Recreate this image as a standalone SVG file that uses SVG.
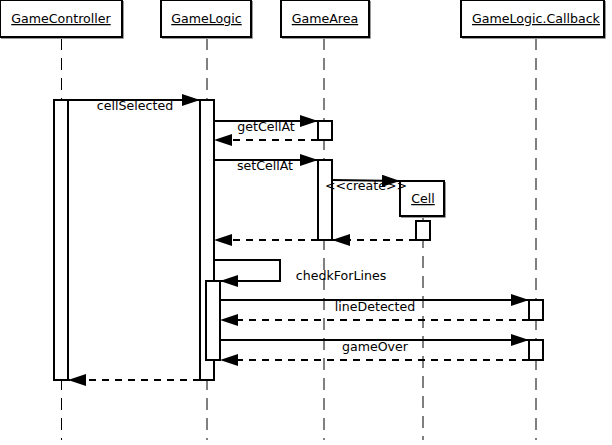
<svg xmlns="http://www.w3.org/2000/svg" width="612" height="445" viewBox="0 0 612 445">
<style>
  text { font-family: "DejaVu Sans", "Liberation Sans", sans-serif; font-size: 12.6px; fill: #000; }
  .hdr { fill: #fff; stroke: #000; stroke-width: 2; }
  .shadow { fill: none; stroke: #999; stroke-width: 1; }
  .life { stroke: #000; stroke-width: 1; stroke-dasharray: 12 8; fill: none; }
  .act { fill: #fff; stroke: #000; stroke-width: 2; }
  .msg { stroke: #000; stroke-width: 2; fill: none; marker-end: url(#arr); }
  .ret { stroke: #000; stroke-width: 2; fill: none; stroke-dasharray: 7 6; marker-end: url(#arr); }
  .u { text-decoration: underline; }
</style>
<defs>
  <marker id="arr" viewBox="0 0 18 12" refX="18" refY="6" markerWidth="18" markerHeight="12" markerUnits="userSpaceOnUse" orient="auto">
    <path d="M0,0 L18,6 L0,12 Z" fill="#000"/>
  </marker>
</defs>
<rect width="612" height="445" fill="#fff"/>

<g id="lifelines">
  <line class="life" x1="61.5" y1="38" x2="61.5" y2="440"/>
  <line class="life" x1="207" y1="38" x2="207" y2="440"/>
  <line class="life" x1="324" y1="38" x2="324" y2="440"/>
  <line class="life" x1="423" y1="216" x2="423" y2="440"/>
  <line class="life" x1="536" y1="38" x2="536" y2="440"/>
</g>

<g id="GameController">
  <path class="shadow" d="M123.5,1 V38.5 H1"/>
  <rect class="hdr" x="0" y="0" width="122" height="37"/>
  <text class="u" x="61" y="23" text-anchor="middle">GameController</text>
  <rect class="act" x="54" y="100" width="14" height="280"/>
</g>
<g id="GameLogic">
  <path class="shadow" d="M252.5,1 V38.5 H162"/>
  <rect class="hdr" x="161" y="0" width="90" height="37"/>
  <text class="u" x="206.5" y="23" text-anchor="middle">GameLogic</text>
  <rect class="act" x="200" y="100" width="14" height="280"/>
  <rect class="act" x="206" y="281" width="14" height="79"/>
</g>
<g id="GameArea">
  <path class="shadow" d="M370.5,1 V38.5 H282"/>
  <rect class="hdr" x="281" y="0" width="88" height="37"/>
  <text class="u" x="325" y="23" text-anchor="middle">GameArea</text>
  <rect class="act" x="318" y="121" width="14" height="19"/>
  <rect class="act" x="318" y="160" width="14" height="80"/>
</g>
<g id="GameLogicCallback">
  <path class="shadow" d="M605.5,1 V38.5 H462"/>
  <rect class="hdr" x="461" y="0" width="143" height="37"/>
  <text class="u" x="536" y="23" text-anchor="middle">GameLogic.Callback</text>
  <rect class="act" x="529" y="300" width="14" height="20"/>
  <rect class="act" x="529" y="340" width="14" height="20"/>
</g>
<g id="Cell">
  <path class="shadow" d="M445.5,182 V217.5 H401"/>
  <rect class="hdr" x="400" y="181" width="44" height="35"/>
  <text class="u" x="423" y="203" text-anchor="middle">Cell</text>
  <rect class="act" x="416" y="221" width="14" height="19"/>
</g>

<g id="connectors">
  <line class="msg" x1="68" y1="100" x2="200" y2="100"/>
  <text x="135" y="110" text-anchor="middle">cellSelected</text>
  <line class="msg" x1="214" y1="121" x2="318" y2="121"/>
  <text x="266" y="131" text-anchor="middle">getCellAt</text>
  <line class="ret" x1="318" y1="140" x2="214" y2="140"/>
  <line class="msg" x1="214" y1="160" x2="318" y2="160"/>
  <text x="265" y="170" text-anchor="middle">setCellAt</text>
  <line class="msg" x1="332" y1="180" x2="400" y2="181"/>
  <text x="366" y="190" text-anchor="middle">&lt;&lt;create&gt;&gt;</text>
  <line class="ret" x1="416" y1="240" x2="332" y2="240"/>
  <line class="ret" x1="318" y1="240" x2="214" y2="240"/>
  <path class="msg" d="M214,260 H280 V281 H220"/>
  <text x="341" y="280" text-anchor="middle">chedkForLines</text>
  <line class="msg" x1="220" y1="300" x2="529" y2="300"/>
  <text x="375" y="311" text-anchor="middle">lineDetected</text>
  <line class="ret" x1="529" y1="320" x2="220" y2="320"/>
  <line class="msg" x1="220" y1="340" x2="529" y2="340"/>
  <text x="375" y="351" text-anchor="middle">gameOver</text>
  <line class="ret" x1="529" y1="360" x2="220" y2="360"/>
  <line class="ret" x1="200" y1="380" x2="68" y2="380"/>
</g>
</svg>
